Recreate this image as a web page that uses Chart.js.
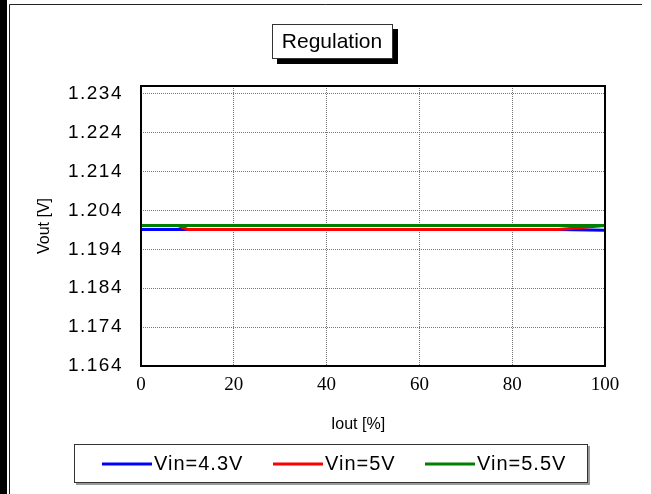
<!DOCTYPE html>
<html>
<head>
<meta charset="utf-8">
<script src="https://cdn.jsdelivr.net/npm/chart.js@4"></script>
<style>
  html, body { margin: 0; padding: 0; background: #fff; }
  #wrap { width: 651px; height: 494px; position: relative; }
</style>
</head>
<body>
<div id="wrap"><canvas id="myChart" width="651" height="494"></canvas></div>
<script>
// data
var seriesNames = ['Vin=4.3V', 'Vin=5V', 'Vin=5.5V'];
var seriesColors = ['#0000ff', '#ff0000', '#008000'];

var ioutBlue = [0, 10, 20, 30, 40, 50, 60, 70, 80, 90, 100];
var voutBlue = [1.1991, 1.1991, 1.1991, 1.1991, 1.1991, 1.1991, 1.1991, 1.1991, 1.1991, 1.1991, 1.1989];

var ioutRed = [0, 8, 10, 20, 30, 40, 50, 60, 70, 80, 90, 100];
var voutRed = [1.2001, 1.2001, 1.1991, 1.1991, 1.1991, 1.1991, 1.1991, 1.1991, 1.1991, 1.1991, 1.1991, 1.2001];

var ioutGreen = [0, 10, 20, 30, 40, 50, 60, 70, 80, 90, 100];
var voutGreen = [1.2001, 1.2001, 1.2001, 1.2001, 1.2001, 1.2001, 1.2001, 1.2001, 1.2001, 1.2001, 1.2001];

var yTicks = [1.164, 1.174, 1.184, 1.194, 1.204, 1.214, 1.224, 1.234];
var xTicks = [0, 20, 40, 60, 80, 100];

var titleText = 'Regulation';
var xTitle = 'Iout [%]';
var yTitle = 'Vout [V]';

function pares(xs, ys) {
    var out = [];
    for (var i = 0; i < xs.length; i++) {
        out.push({ x: xs[i], y: ys[i] });
    }
    return out;
}

// frame, title box, legend box and page border
var decoraciones = {
    id: 'decoraciones',
    afterLayout: function(chart) {
        // wider spacing on the y tick labels, like the reference
        var ys = chart.scales.y;
        if (!ys._espaciado) {
            var original = ys.drawLabels;
            ys.drawLabels = function(area) {
                var ctx = this.ctx;
                ctx.save();
                ctx.letterSpacing = '1.5px';
                original.call(this, area);
                ctx.restore();
            };
            ys._espaciado = true;
        }
    },
    beforeDraw: function(chart) {
        var ctx = chart.ctx;
        ctx.save();
        ctx.fillStyle = '#fff';
        ctx.fillRect(0, 0, chart.width, chart.height);
        // page border
        ctx.fillStyle = '#000';
        ctx.fillRect(0, 0, 7, chart.height);
        ctx.strokeStyle = '#222';
        ctx.lineWidth = 1;
        ctx.beginPath();
        ctx.moveTo(9.5, chart.height);
        ctx.lineTo(9.5, 4.5);
        ctx.lineTo(642, 4.5);
        ctx.stroke();
        ctx.restore();
    },
    afterDraw: function(chart) {
        var ctx = chart.ctx;
        var a = chart.chartArea;
        ctx.save();
        // plot frame
        ctx.strokeStyle = '#000';
        ctx.lineWidth = 2;
        ctx.strokeRect(a.left, a.top, a.right - a.left, a.bottom - a.top);

        // x axis title
        ctx.fillStyle = '#000';
        ctx.font = '16px "Liberation Sans", Arial, sans-serif';
        ctx.textAlign = 'center';
        ctx.textBaseline = 'middle';
        ctx.fillText(xTitle, 358, 425);

        // title box with shadow
        ctx.fillStyle = '#000';
        ctx.fillRect(277, 29, 121, 35);
        ctx.fillStyle = '#fff';
        ctx.fillRect(272, 24, 121, 35);
        ctx.strokeStyle = '#333';
        ctx.lineWidth = 1;
        ctx.strokeRect(272.5, 24.5, 120, 34);
        ctx.fillStyle = '#000';
        ctx.font = '21px "Liberation Sans", Arial, sans-serif';
        ctx.fillText(titleText, 332, 42);

        // legend box
        ctx.fillStyle = '#999';
        ctx.fillRect(76, 446, 514, 39);
        ctx.fillStyle = '#fff';
        ctx.fillRect(74, 444, 514, 39);
        ctx.strokeStyle = '#333';
        ctx.strokeRect(74.5, 444.5, 513, 38);

        var lineX = [102, 273, 425];
        ctx.font = '20px "Liberation Sans", Arial, sans-serif';
        ctx.textAlign = 'left';
        ctx.letterSpacing = '1px';
        for (var i = 0; i < seriesNames.length; i++) {
            ctx.strokeStyle = seriesColors[i];
            ctx.lineWidth = 3;
            ctx.beginPath();
            ctx.moveTo(lineX[i], 464);
            ctx.lineTo(lineX[i] + 50, 464);
            ctx.stroke();
            ctx.fillStyle = '#000';
            ctx.fillText(seriesNames[i], lineX[i] + 52, 464);
        }
        ctx.restore();
    }
};

var canvas = document.getElementById('myChart').getContext('2d');
var chart = new Chart(canvas, {
    type: 'line',
    data: {
        datasets: [
            {
                label: seriesNames[0],
                data: pares(ioutBlue, voutBlue),
                borderColor: seriesColors[0],
                order: 2
            },
            {
                label: seriesNames[1],
                data: pares(ioutRed, voutRed),
                borderColor: seriesColors[1],
                order: 1
            },
            {
                label: seriesNames[2],
                data: pares(ioutGreen, voutGreen),
                borderColor: seriesColors[2],
                order: 0
            }
        ]
    },
    options: {
        responsive: false,
        animation: false,
        layout: { padding: { left: 0, right: 46, top: 86, bottom: 0 } },
        elements: {
            line: { borderWidth: 3, tension: 0, fill: false },
            point: { radius: 0 }
        },
        plugins: {
            legend: { display: false },
            title: { display: false },
            tooltip: { enabled: false }
        },
        scales: {
            x: {
                type: 'linear',
                min: 0,
                max: 100,
                afterFit: function(scale) { scale.height = 128; },
                afterBuildTicks: function(scale) {
                    scale.ticks = xTicks.map(function(v) { return { value: v }; });
                },
                grid: { color: '#777', lineWidth: 1, drawTicks: false },
                border: { display: false, dash: [1, 1] },
                ticks: {
                    padding: 8,
                    color: '#000',
                    maxRotation: 0,
                    font: { family: '"Liberation Serif", "Times New Roman", serif', size: 19 }
                },
                title: { display: false }
            },
            y: {
                type: 'linear',
                min: 1.164,
                max: 1.236,
                afterFit: function(scale) { scale.width = 141; },
                afterBuildTicks: function(scale) {
                    scale.ticks = yTicks.map(function(v) { return { value: v }; });
                },
                grid: { color: '#777', lineWidth: 1, drawTicks: false },
                border: { display: false, dash: [1, 1] },
                ticks: {
                    padding: 18,
                    color: '#000',
                    font: { family: '"Liberation Sans", Arial, sans-serif', size: 19 },
                    callback: function(value) { return value.toFixed(3); }
                },
                title: {
                    display: true,
                    text: yTitle,
                    color: '#000',
                    font: { family: '"Liberation Sans", Arial, sans-serif', size: 16 },
                    padding: { top: 35, bottom: 0 }
                }
            }
        }
    },
    plugins: [decoraciones]
});
</script>
</body>
</html>
